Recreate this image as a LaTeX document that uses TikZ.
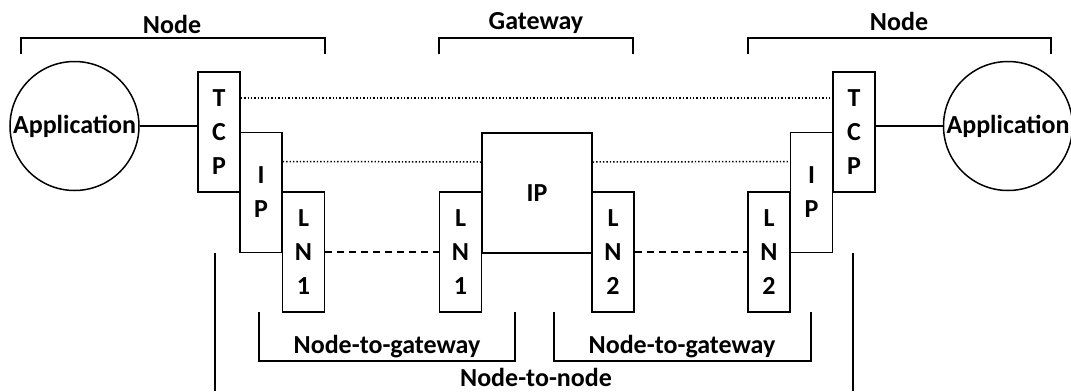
\documentclass[tikz,border=0pt]{standalone}
\usepackage{fontspec}
\setmainfont{Carlito}
\usetikzlibrary{calc}
\newcommand{\linew}{1.5pt}
\newcommand{\boxw}{42pt}
\newcommand{\boxh}{120pt}
\newcommand{\labelfont}{\fontsize{26}{34}\selectfont\bfseries}

\begin{document}
\begin{tikzpicture}[x=1pt,y=-1pt,
  layer/.style={draw, rectangle, line width=\linew, minimum width=\boxw, minimum height=\boxh, inner sep=0pt, align=center, font=\labelfont},
  app/.style={draw, circle, line width=\linew, minimum size=129pt, inner sep=0pt, font=\labelfont},
  lbl/.style={inner sep=0pt, anchor=base, font=\labelfont},
  brace/.style={line width=\linew},
  peer/.style={line width=\linew, dash pattern=on 1.4pt off 2pt},
  link/.style={line width=\linew, dash pattern=on 7pt off 5pt}]
\useasboundingbox (0,0) rectangle (1071,391);
% left node
\node[app] (appL) at (74.5,126) {Application};
\node[layer] (tcpL) at (219,132) {T\\C\\P};
\node[layer] (ipL) at (261,192.5) {I\\P};
\node[layer] (lnL) at (303.5,252) {L\\N\\1};
% gateway
\node[layer] (lnGa) at (460.5,252) {L\\N\\1};
\node[layer, minimum width=110pt] (ipG) at (537,193) {IP};
\node[layer] (lnGb) at (613,252) {L\\N\\2};
% right node
\node[layer] (lnR) at (769,252) {L\\N\\2};
\node[layer] (ipR) at (811.5,192.5) {I\\P};
\node[layer] (tcpR) at (854,132) {T\\C\\P};
\node[app] (appR) at (1008,126) {Application};
% links
\draw[brace] (appL.east) -- (appL.east -| tcpL.west);
\draw[brace] (appR.west -| tcpR.east) -- (appR.west);
\draw[peer] ([yshift=34pt]tcpL.east) -- ([yshift=34pt]tcpR.west);
\draw[peer] ([yshift=31pt]ipL.east) -- ([yshift=31pt]ipG.west);
\draw[peer] ([yshift=31pt]ipG.east) -- ([yshift=31pt]ipR.west);
\draw[link] (lnL.east) -- (lnGa.west);
\draw[link] (lnGb.east) -- (lnR.west);
% brackets
\draw[brace] (21,54) -- (21,38) -- (325,38) -- (325,54);
\draw[brace] (439,54) -- (439,38) -- (633,38) -- (633,54);
\draw[brace] (748,54) -- (748,38) -- (1051,38) -- (1051,54);
\node[lbl] (nodeL) at (172,33) {Node};
\node[lbl] (gate) at (536,29) {Gateway};
\node[lbl] (nodeR) at (899,30) {Node};
\draw[brace] (259,312) -- (259,361) -- (515,361) -- (515,312);
\draw[brace] (554,312) -- (554,361) -- (811,361) -- (811,312);
\draw[brace] (215,253) -- (215,391);
\draw[brace] (853,253) -- (853,391);
\node[lbl] (hopL) at (387,353) {Node-to-gateway};
\node[lbl] (hopR) at (682,353) {Node-to-gateway};
\node[lbl] (endtoend) at (536,386) {Node-to-node};
\end{tikzpicture}
\end{document}
